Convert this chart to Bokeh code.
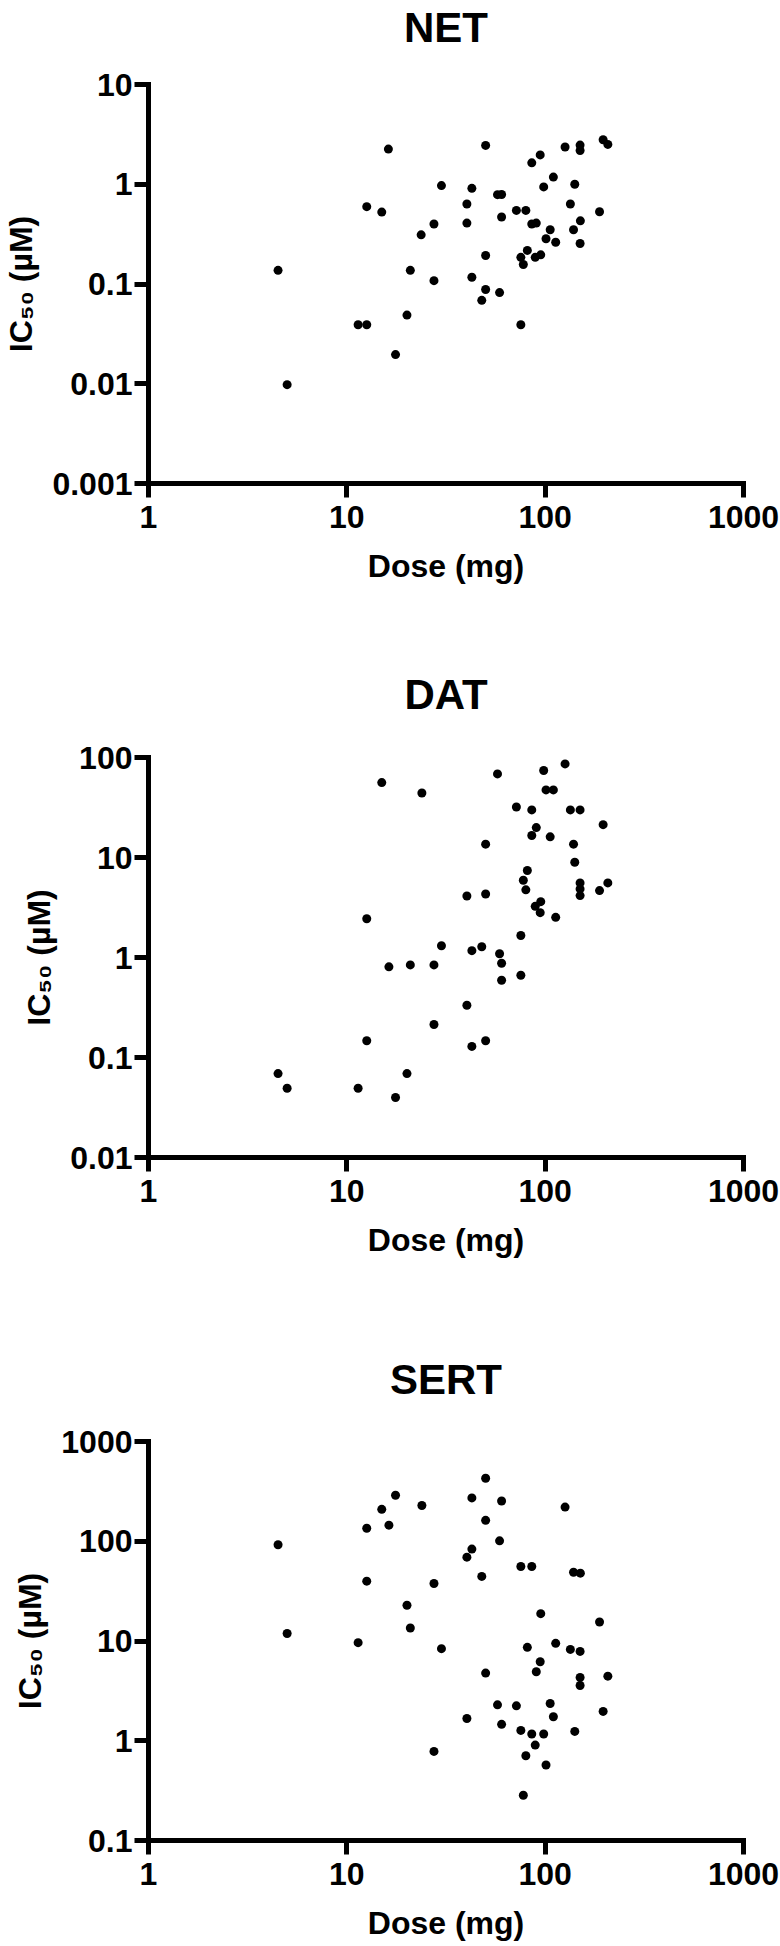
from bokeh.plotting import figure
from bokeh.layouts import column
from bokeh.models import FixedTicker, CustomJSTickFormatter, Range1d, LogAxis
from bokeh.embed import file_html
from bokeh.resources import INLINE

# ---------------- data ----------------
x_ticks = [1, 10, 100, 1000]

net_dose = [4.5, 5.0, 11.4, 12.6, 12.6, 15.0, 16.2, 17.6, 20.1, 20.9, 23.7, 27.5, 27.5,
            30.0, 40.3, 40.3, 42.7, 42.7, 47.9, 50.1, 50.1, 50.1, 57.5, 60.3, 60.3, 58.9,
            71.6, 79.9, 75.4, 75.4, 77.6, 81.3, 85.6, 85.6, 90.2, 89.1, 95.0, 94.4, 98.3,
            101, 106, 110, 113, 126, 134, 139, 141, 150, 150, 150.5, 150, 188, 196, 207]
net_ic50 = [0.137, 0.0098, 0.039, 0.039, 0.596, 0.526, 2.25, 0.0196, 0.0488, 0.137, 0.311,
            0.40, 0.108, 0.97, 0.634, 0.408, 0.91, 0.117, 0.0686, 2.45, 0.193, 0.088, 0.787,
            0.79, 0.469, 0.082, 0.547, 0.547, 0.039, 0.185, 0.157, 0.217, 1.64, 0.40, 0.408,
            0.185, 0.196, 1.97, 0.94, 0.284, 0.35, 1.18, 0.262, 2.36, 0.634, 0.35, 1.0, 2.47,
            2.18, 0.43, 0.255, 0.53, 2.79, 2.51]
net_ticks = [0.001, 0.01, 0.1, 1, 10]

dat_dose = [15.0, 23.9, 57.5, 98.3, 126, 101, 110, 71.6, 85.6, 134, 150, 196, 90.2, 85.6,
            106, 50.1, 139, 141, 81.3, 77.6, 79.9, 150, 150, 150, 207, 188, 40.3, 50.1,
            95.0, 89.1, 94.4, 113, 12.6, 75.4, 30.0, 47.9, 42.7, 58.9, 60.3, 16.3, 20.9,
            27.5, 75.4, 60.3, 40.3, 27.5, 12.6, 50.1, 42.7, 4.5, 5.0, 11.4, 17.6, 20.1]
dat_ic50 = [56.1, 44.2, 68.5, 74.1, 86.3, 47.4, 47.4, 32.0, 29.9, 29.9, 29.9, 21.3, 19.9,
            16.6, 16.1, 13.6, 13.6, 8.97, 7.41, 5.93, 4.75, 5.57, 4.85, 4.16, 5.57, 4.67,
            4.12, 4.31, 3.62, 3.25, 2.81, 2.52, 2.44, 1.66, 1.31, 1.28, 1.17, 1.09, 0.877,
            0.806, 0.843, 0.843, 0.665, 0.593, 0.333, 0.214, 0.147, 0.147, 0.129, 0.069,
            0.0493, 0.0493, 0.0398, 0.069]
dat_ticks = [0.01, 0.1, 1, 10, 100]

sert_dose = [50.1, 17.6, 42.7, 60.3, 23.9, 126, 15.0, 50.1, 16.3, 12.6, 58.9, 4.5, 42.7,
             40.3, 75.4, 85.6, 139, 150.5, 47.9, 12.6, 27.5, 20.1, 95.0, 188, 20.9, 5.0,
             11.4, 113, 30.0, 81.3, 134, 150, 94.4, 90.2, 50.1, 207, 150, 150, 57.5, 71.6,
             106, 196, 40.3, 110, 60.3, 75.4, 85.6, 98.3, 141, 89.1, 27.5, 79.9, 101, 77.6]
sert_ic50 = [428, 289, 272, 253, 228, 220, 209, 162, 145, 135, 101, 92.2, 83.4, 69.3, 55.8,
             55.8, 48.9, 47.9, 44.4, 39.8, 37.7, 22.8, 18.8, 15.5, 13.5, 11.9, 9.63, 9.48,
             8.38, 8.64, 8.24, 7.87, 6.20, 4.92, 4.77, 4.44, 4.31, 3.58, 2.29, 2.24, 2.36,
             1.97, 1.67, 1.74, 1.46, 1.27, 1.17, 1.17, 1.24, 0.905, 0.782, 0.708, 0.571, 0.284]
sert_ticks = [0.1, 1, 10, 100, 1000]

FONT = "Liberation Sans"
fmt_code = "return String(Number(tick.toPrecision(3)));"


def make_panel(title, dose, ic50, y_ticks, height, b_top, b_bottom, title_gap):
    p = figure(width=780, height=height,
               x_axis_type="log", y_axis_type="log",
               x_range=Range1d(x_ticks[0], x_ticks[-1]),
               y_range=Range1d(y_ticks[0], y_ticks[-1]),
               output_backend="svg", toolbar_location=None,
               min_border_left=144, min_border_right=37,
               min_border_top=b_top, min_border_bottom=b_bottom)
    p.outline_line_color = None
    p.xgrid.visible = False
    p.ygrid.visible = False
    p.background_fill_color = "white"
    p.border_fill_color = "white"

    p.scatter(dose, ic50, size=9, color="black", line_color=None)

    xa = p.below[0]
    ya = p.left[0]
    xa.ticker = FixedTicker(ticks=x_ticks, minor_ticks=[])
    ya.ticker = FixedTicker(ticks=y_ticks, minor_ticks=[])
    for ax in (xa, ya):
        ax.formatter = CustomJSTickFormatter(code=fmt_code)
        ax.axis_line_width = 5
        ax.axis_line_color = "black"
        ax.axis_line_cap = "square"
        ax.major_tick_line_width = 5
        ax.major_tick_line_color = "black"
        ax.major_tick_out = 14
        ax.major_tick_in = 0
        ax.minor_tick_line_color = None
        ax.major_label_text_font = FONT
        ax.major_label_text_font_size = "32px"
        ax.major_label_text_font_style = "bold"
        ax.major_label_text_color = "black"
        ax.axis_label_text_font = FONT
        ax.axis_label_text_font_size = "32px"
        ax.axis_label_text_font_style = "bold"
        ax.axis_label_text_color = "black"
    xa.axis_label = "Dose (mg)"
    xa.major_label_standoff = 8
    xa.axis_label_standoff = 17
    ya.axis_label = "IC\u2085\u2080 (\u00b5M)"
    ya.major_label_standoff = 2
    ya.axis_label_standoff = 10

    # panel title drawn as the label of a bare axis above the frame
    top = LogAxis(ticker=FixedTicker(ticks=[], minor_ticks=[]), axis_label=title,
                  axis_line_color=None, major_tick_line_color=None,
                  minor_tick_line_color=None, major_tick_out=0, major_tick_in=0,
                  minor_tick_out=0, minor_tick_in=0,
                  major_label_standoff=0, major_label_text_font_size="0px",
                  axis_label_standoff=title_gap, axis_label_text_font=FONT,
                  axis_label_text_font_size="42px",
                  axis_label_text_font_style="bold",
                  axis_label_text_color="black")
    p.add_layout(top, "above")
    return p


p1 = make_panel("NET", net_dose, net_ic50, net_ticks, 640, 84, 157, 34)
p2 = make_panel("DAT", dat_dose, dat_ic50, dat_ticks, 680, 117, 163, 40)
p3 = make_panel("SERT", sert_dose, sert_ic50, sert_ticks, 626, 121, 106, 39)

layout = column(p1, p2, p3, spacing=0)
open("out.html", "w").write(file_html(layout, INLINE))
